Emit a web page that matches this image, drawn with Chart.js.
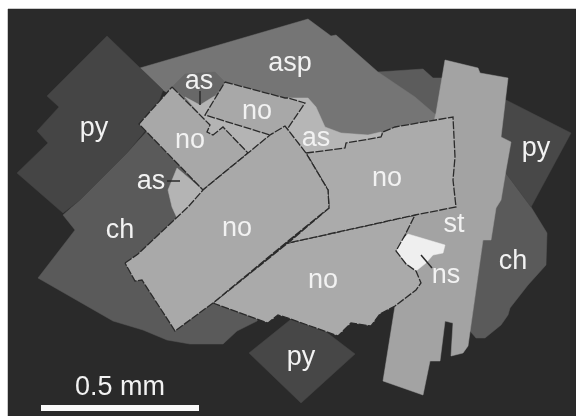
<!DOCTYPE html>
<html>
<head>
<meta charset="utf-8">
<style>
  html, body { margin: 0; padding: 0; background: #ffffff; }
  canvas { display: block; filter: blur(0.45px); }
</style>
<script src="https://cdn.jsdelivr.net/npm/chart.js@4"></script>
</head>
<body>
<canvas id="grainMap" width="576" height="416"></canvas>
<script>
// grain outlines as [x, y] in image units
const groundMass = [[8, 9], [576, 9], [576, 416], [8, 416]];
const pyLeft = [[107, 36], [163, 90], [150, 125], [127, 153], [80, 200], [63, 213], [17, 173], [48, 143], [37, 131], [59, 107], [47, 96]];
const pyRight = [[506, 100], [571, 133], [531, 207], [505, 172], [490, 130]];
const pyBottom = [[300, 312], [355, 354], [301, 403], [249, 353]];
const chLeft = [[150, 128], [172, 150], [205, 200], [270, 290], [257, 321], [237, 331], [223, 344], [190, 344], [167, 340], [143, 330], [113, 321], [38, 278], [75, 230], [63, 215], [80, 200], [127, 153]];
const chRight = [[505, 172], [531, 207], [547, 233], [546, 265], [528, 285], [510, 308], [508, 315], [501, 325], [485, 338], [476, 338], [470, 331], [483, 240], [495, 200]];
const chTop = [[378, 72], [423, 69], [433, 78], [445, 78], [440, 130], [425, 115]];
const aspGrain = [[140, 68], [308, 19], [331, 36], [336, 35], [378, 72], [415, 97], [436, 115], [420, 150], [300, 170], [220, 130], [163, 90]];
const aspShadow = [[172, 87], [185, 97], [200, 105], [213, 97], [225, 82], [215, 72], [185, 74]];
const stGrain = [[445, 60], [478, 68], [480, 73], [508, 78], [501, 137], [511, 142], [506, 170], [501, 200], [496, 208], [491, 240], [483, 240], [468, 346], [463, 353], [451, 356], [453, 323], [445, 321], [440, 361], [430, 361], [423, 395], [383, 381], [395, 306], [405, 240], [414, 200], [436, 113]];
const asTop = [[185, 97], [200, 105], [213, 97], [230, 90], [270, 135], [248, 153], [223, 127], [213, 137], [205, 132], [205, 120]];
const asRight = [[288, 98], [308, 98], [316, 107], [325, 127], [341, 133], [368, 135], [381, 132], [381, 150], [306, 160], [288, 128]];
const asLeft = [[177, 168], [168, 190], [172, 207], [177, 218], [187, 215], [203, 190]];
const noLeft = [[172, 87], [210, 125], [207, 132], [213, 135], [223, 127], [248, 153], [203, 190], [139, 124]];
const noTop = [[225, 82], [285, 98], [288, 98], [305, 103], [288, 128], [270, 135], [205, 115]];
const noBig = [[125, 263], [138, 254], [188, 207], [203, 190], [248, 153], [270, 135], [285, 126], [306, 153], [328, 190], [329, 208], [288, 241], [213, 303], [175, 331], [142, 280], [135, 281]];
const noMiddle = [[306, 153], [345, 148], [346, 143], [381, 137], [383, 132], [395, 127], [453, 117], [455, 157], [453, 180], [456, 207], [415, 215], [288, 243], [329, 208], [328, 190]];
const noLower = [[213, 303], [288, 243], [415, 215], [405, 235], [396, 251], [406, 264], [416, 271], [421, 283], [416, 290], [395, 306], [380, 314], [371, 326], [351, 323], [338, 336], [288, 318], [278, 315], [268, 323]];
const nsGrain = [[408, 234], [445, 245], [443, 253], [433, 255], [426, 263], [416, 271], [406, 263], [396, 251], [401, 241]];

// thin pointers from a label to its grain, and the scale bar
const asTopPointer = [[200, 91], [200, 105]];
const asLeftPointer = [[167, 181], [180, 181]];
const nsPointer = [[421, 255], [432, 268]];
const scaleBar = [[41, 408], [199, 408]];

const labelTexts = ["py", "asp", "as", "no", "no", "as", "py", "no", "as", "ch", "no", "st", "ns", "ch", "no", "py", "0.5 mm"];
const labelX = [94, 290, 199, 257, 190, 316, 536, 387, 151, 120, 237, 454, 446, 513, 323, 301, 120];
const labelY = [129, 64, 82, 112, 141, 139, 149, 179, 182, 231, 229, 225, 276, 262, 281, 358, 388];

function toPoints(outline) {
    return outline.map(p => ({ x: p[0], y: p[1] }));
}

function grain(outline, color, edge) {
    const closed = outline.concat([outline[0]]);
    return {
        data: toPoints(closed),
        showLine: true,
        pointRadius: 0,
        fill: "shape",
        backgroundColor: color,
        borderColor: edge ? "#2a2a2a" : color,
        borderWidth: edge ? 1.3 : 0.5,
        borderDash: edge ? [8, 1.5] : []
    };
}

function stroke(outline, color, width) {
    return {
        data: toPoints(outline),
        showLine: true,
        pointRadius: 0,
        fill: false,
        borderColor: color,
        borderWidth: width
    };
}

const labelPlugin = {
    id: "grainLabels",
    afterDatasetsDraw(chart) {
        const points = chart.getDatasetMeta(0).data;
        const ctx = chart.ctx;
        ctx.save();
        ctx.fillStyle = "#f2f2f2";
        ctx.font = "27px 'Liberation Sans'";
        ctx.textAlign = "center";
        ctx.textBaseline = "middle";
        points.forEach((point, i) => {
            ctx.fillText(labelTexts[i], point.x, point.y);
        });
        ctx.restore();
    }
};

// first dataset is drawn last, so the list runs from top grain to bottom grain
const datasets = [
    {
        data: labelX.map((x, i) => ({ x: x, y: labelY[i] })),
        showLine: false,
        pointRadius: 0
    },
    stroke(scaleBar, "#fafafa", 6),
    stroke(asTopPointer, "#2a2a2a", 1.5),
    stroke(asLeftPointer, "#2a2a2a", 1.5),
    stroke(nsPointer, "#2a2a2a", 1.5),
    grain(noBig, "#a9a9a9", true),
    grain(noMiddle, "#ababab", true),
    grain(noLower, "#aaaaaa", true),
    grain(noTop, "#a8a8a8", true),
    grain(noLeft, "#a8a8a8", true),
    grain(nsGrain, "#efefef", false),
    grain(asTop, "#b4b4b4", false),
    grain(asRight, "#b6b6b6", false),
    grain(asLeft, "#b4b4b4", false),
    grain(stGrain, "#a3a3a3", false),
    grain(pyBottom, "#474747", false),
    grain(pyLeft, "#454545", false),
    grain(pyRight, "#484848", false),
    grain(chRight, "#5a5a5a", false),
    grain(chLeft, "#5a5a5a", false),
    grain(aspShadow, "#686868", false),
    grain(aspGrain, "#757575", false),
    grain(chTop, "#5c5c5c", false),
    grain(groundMass, "#2a2a2a", false)
];

new Chart(document.getElementById("grainMap"), {
    type: "scatter",
    data: { datasets: datasets },
    plugins: [labelPlugin],
    options: {
        responsive: false,
        animation: false,
        layout: { padding: 0 },
        plugins: {
            legend: { display: false },
            tooltip: { enabled: false }
        },
        scales: {
            x: { type: "linear", min: 0, max: 576, display: false },
            y: { type: "linear", min: 0, max: 416, reverse: true, display: false }
        }
    }
});
</script>
</body>
</html>
